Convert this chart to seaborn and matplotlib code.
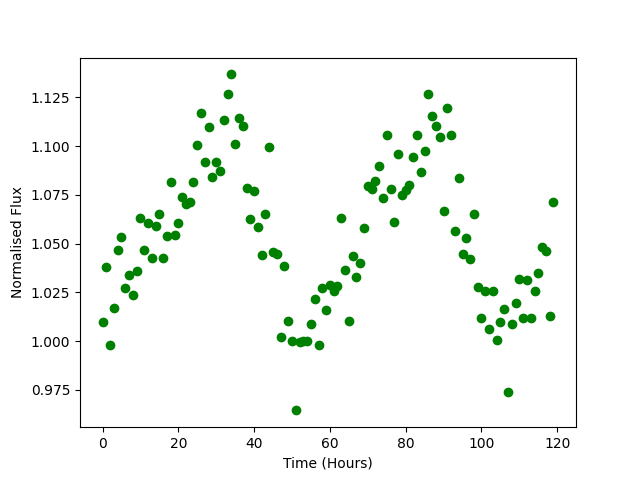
import matplotlib
matplotlib.use("Agg")
import matplotlib.pyplot as plt
import seaborn as sns
import numpy as np

hours = list(range(120))
flux = [
    1.0096, 1.0378, 0.9978, 1.0168, 1.0465, 1.0532, 1.0270, 1.0337, 1.0235, 1.0358,
    1.0629, 1.0465, 1.0603, 1.0424, 1.0588, 1.0650, 1.0424, 1.0537, 1.0814, 1.0542,
    1.0603, 1.0737, 1.0701, 1.0711, 1.0814, 1.1003, 1.1167, 1.0916, 1.1095, 1.0839,
    1.0916, 1.0870, 1.1131, 1.1269, 1.1367, 1.1008, 1.1141, 1.1100, 1.0783, 1.0624,
    1.0767, 1.0583, 1.0440, 1.0650, 1.0993, 1.0455, 1.0445, 1.0019, 1.0383, 1.0101,
    0.9999, 0.9645, 0.9994, 0.9999, 0.9999, 1.0086, 1.0214, 0.9978, 1.0270, 1.0158,
    1.0286, 1.0255, 1.0281, 1.0629, 1.0363, 1.0101, 1.0434, 1.0327, 1.0399, 1.0578,
    1.0793, 1.0778, 1.0819, 1.0895, 1.0732, 1.1054, 1.0778, 1.0609, 1.0957, 1.0747,
    1.0773, 1.0798, 1.0942, 1.1054, 1.0865, 1.0974, 1.1269, 1.1153, 1.1100, 1.1044,
    1.0665, 1.1193, 1.1054, 1.0562, 1.0834, 1.0446, 1.0527, 1.0419, 1.0650, 1.0276,
    1.0118, 1.0255, 1.0062, 1.0255, 1.0004, 1.0096, 1.0163, 0.9738, 1.0086, 1.0194,
    1.0317, 1.0118, 1.0313, 1.0118, 1.0257, 1.0347, 1.0482, 1.0460, 1.0127, 1.0711,
]

fig, ax = plt.subplots(figsize=(6.4, 4.8), dpi=100)
sns.scatterplot(x=hours, y=flux, ax=ax, color="green", s=36,
                edgecolor="green", linewidth=1.0)
ax.set_xlabel("Time (Hours)")
ax.set_ylabel("Normalised Flux")
fig.savefig("out.png", dpi=100)
